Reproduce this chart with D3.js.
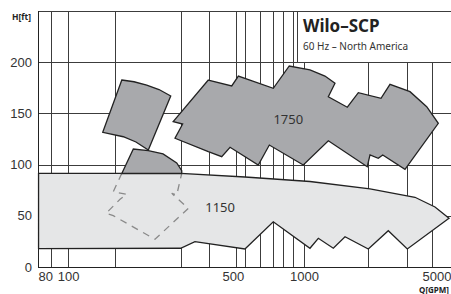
<!DOCTYPE html>
<html lang="en">
<head>
<meta charset="UTF-8">
<title>Wilo-SCP 60 Hz</title>
<script src="https://cdn.jsdelivr.net/npm/d3@7"></script>
<style>
  body { margin: 0; background: #fff; }
  svg { display: block; font-family: "Noto Sans", "Open Sans", sans-serif; }
</style>
</head>
<body>
<script>
// ticks and grid (Q in GPM, H in ft)
var qTicks = [80, 100, 500, 1000, 5000];
var hTicks = [0, 50, 100, 150, 200];
var qGrid = [85, 100, 158, 300, 396, 517, 561, 651, 741, 812, 896, 1000, 1873, 2740, 3476];
var hGrid = [50, 100, 150, 200];

// operating ranges, [Q, H]
var range1150 = [[75, 91.5], [300, 91.5], [562, 87.9], [1060, 83.5], [1904, 76.2], [2953, 68.1],
    [3590, 58.6], [4116, 47.6], [2740, 17.6], [2276, 35.4], [1873, 17.6], [1492, 29.6],
    [1331, 18.3], [1150, 28.0], [1060, 18.3], [741, 44.2], [562, 17.6], [345, 24.7],
    [300, 18.3], [75, 17.9]];
var range1150dashed = [[169, 91.5], [155.5, 73.5], [177.3, 71.0], [166.1, 66.1], [144.9, 52.4],
    [155.5, 50.1], [233.6, 27.1], [323.4, 57.3], [275, 72.0], [288.8, 70.3], [303.3, 91.5]];
var range1750low = [[169, 91.3], [189.1, 115.2], [218.9, 113.6], [252.7, 110.4], [288.8, 101.6],
    [303.3, 94.0], [303.3, 91.3]];
var range1750flag = [[169, 182.6], [190.4, 180.9], [215.5, 177.7], [243, 173.3], [272.4, 167],
    [218.9, 114.3], [194, 122.1], [171.5, 127.2], [140.3, 131.5]];
var range1750 = [[393, 182.6], [494, 176.8], [527, 186.5], [741, 174.5], [866, 196.3], [1060, 192.4],
    [1227, 186.5], [1353, 179.4], [1268, 166.3], [1526, 156.0], [1699, 170.2], [2120, 164.7],
    [2314, 178.4], [2813, 171.2], [3311, 156.5], [3708, 140.3], [2679, 95.4], [2156, 109.4],
    [2064, 106.2], [1904, 109.4], [1854, 97.9], [1268, 123.3], [993, 99.6], [713, 119.1],
    [640, 99.6], [486, 116.9], [448, 107.7], [393, 112.6], [284, 125.7], [306, 139.6], [279, 141.9]];
var speedLabels = [["1750", 858, 144.2], ["1150", 441, 57.9]];

var width = 451, height = 294;
var padLeft = 38, padTop = 11, padBottom = 267;

var x = d3.scaleLog().domain([74.6, 4197]).range([padLeft, width]);
var y = d3.scaleLinear().domain([0, 250]).range([padBottom, padTop]);

var svg = d3.select("body").append("svg")
    .attr("width", width)
    .attr("height", height);

// grid
svg.append("g").selectAll("line").data(qGrid).enter().append("line")
    .attr("x1", function (d) { return Math.round(x(d)) + 0.5; })
    .attr("x2", function (d) { return Math.round(x(d)) + 0.5; })
    .attr("y1", padTop).attr("y2", padBottom)
    .attr("stroke", "#3c3c3c").attr("stroke-width", 1);
svg.append("g").selectAll("line").data(hGrid).enter().append("line")
    .attr("x1", padLeft).attr("x2", width)
    .attr("y1", function (d) { return Math.round(y(d)) + 0.5; })
    .attr("y2", function (d) { return Math.round(y(d)) + 0.5; })
    .attr("stroke", "#3c3c3c").attr("stroke-width", 1);
// frame top
svg.append("line").attr("x1", padLeft).attr("x2", width)
    .attr("y1", padTop + 0.5).attr("y2", padTop + 0.5).attr("stroke", "#3c3c3c");

var line = d3.line().x(function (d) { return x(d[0]); }).y(function (d) { return y(d[1]); });

function area(data, fill) {
    svg.append("path")
        .attr("d", line(data) + "Z")
        .attr("fill", fill)
        .attr("stroke", "#222")
        .attr("stroke-width", 1.3)
        .attr("stroke-linejoin", "miter");
}
area(range1150, "#e5e6e7");
svg.append("path")
    .attr("d", line(range1150dashed))
    .attr("fill", "none")
    .attr("stroke", "#8a8a8a")
    .attr("stroke-width", 1.3)
    .attr("stroke-dasharray", "7,6");
area(range1750low, "#a8a9ac");
area(range1750flag, "#a8a9ac");
area(range1750, "#a8a9ac");

svg.append("g").selectAll("text").data(speedLabels).enter().append("text")
    .attr("x", function (d) { return x(d[1]); })
    .attr("y", function (d) { return y(d[2]); })
    .attr("dy", "0.35em")
    .attr("text-anchor", "middle")
    .attr("font-size", "13px")
    .attr("fill", "#333")
    .text(function (d) { return d[0]; });

// axes
var gx = svg.append("g")
    .attr("transform", "translate(0," + padBottom + ")")
    .call(d3.axisBottom(x).tickValues(qTicks).tickFormat(d3.format("d")).tickSize(0).tickPadding(5));
gx.select(".domain").remove();
gx.selectAll("text").attr("font-size", "13px").attr("fill", "#333").attr("font-family", null)
    .each(function (d) {
        var px = x(d);
        if (px > width - 16) {
            d3.select(this).attr("text-anchor", "end").attr("x", width - px);
        }
    });

var gy = svg.append("g")
    .attr("transform", "translate(" + padLeft + ",0)")
    .call(d3.axisLeft(y).tickValues(hTicks).tickSize(0).tickPadding(6));
gy.select(".domain").remove();
gy.selectAll("text").attr("font-size", "13px").attr("fill", "#333").attr("font-family", null);

svg.append("line").attr("x1", padLeft + 0.5).attr("x2", padLeft + 0.5)
    .attr("y1", padTop).attr("y2", padBottom + 0.5).attr("stroke", "#222");
svg.append("line").attr("x1", padLeft).attr("x2", width)
    .attr("y1", padBottom + 0.5).attr("y2", padBottom + 0.5).attr("stroke", "#222");

svg.append("text").attr("x", 12).attr("y", 19.5)
    .attr("font-size", "8.5px").attr("font-weight", "bold").attr("fill", "#222")
    .text("H[ft]");
svg.append("text").attr("x", 449).attr("y", 293)
    .attr("text-anchor", "end")
    .attr("font-size", "8px").attr("font-weight", "bold").attr("fill", "#222")
    .text("Q[GPM]");

// title box
svg.append("rect")
    .attr("x", 297.5).attr("y", padTop + 0.5)
    .attr("width", width - 297).attr("height", Math.round(y(200)) - padTop)
    .attr("fill", "#fff").attr("stroke", "#3c3c3c");
svg.append("text").attr("x", 303).attr("y", 32)
    .attr("font-size", "17px").attr("font-weight", "bold").attr("fill", "#222")
    .text("Wilo–SCP");
svg.append("text").attr("x", 303).attr("y", 50)
    .attr("font-size", "10px").attr("fill", "#333")
    .text("60 Hz – North America");
</script>
</body>
</html>
